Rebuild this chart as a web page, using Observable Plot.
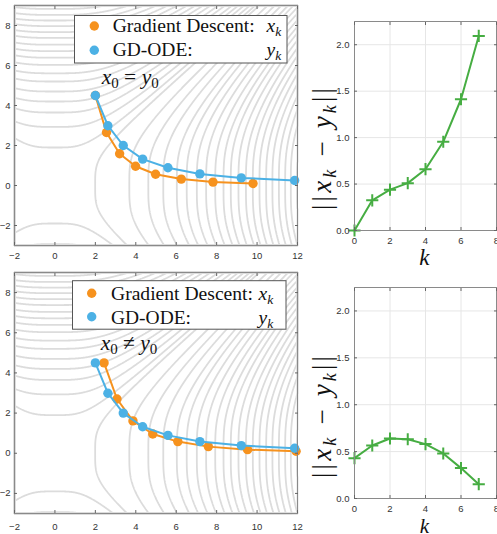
<!DOCTYPE html>
<html>
<head>
<meta charset="utf-8">
<script src="https://cdn.jsdelivr.net/npm/d3@7"></script>
<script src="https://cdn.jsdelivr.net/npm/@observablehq/plot@0.6"></script>
<style>
  body { margin: 0; background: #fff; }
  #fig { position: relative; width: 497px; height: 534px; overflow: hidden; background: #fff; }
  #fig .panel { position: absolute; }
  #fig svg.overlay { position: absolute; left: 0; top: 0; pointer-events: none; }
</style>
</head>
<body>
<div id="fig"></div>
<script>
// Iteration index k = 0..7
const k = [0, 1, 2, 3, 4, 5, 6, 7];

// Gradient descent iterates x_k, started at the same point as the ODE (x0 = y0)
const gdX1 = [2.0, 2.55, 3.2, 3.99, 4.98, 6.25, 7.82, 9.8];
const gdY1 = [4.5, 2.65, 1.59, 0.96, 0.56, 0.32, 0.17, 0.1];

// Gradient descent iterates x_k, started off the ODE start point (x0 != y0)
const gdX2 = [2.43, 3.07, 3.86, 4.84, 6.08, 7.59, 9.53, 11.93];
const gdY2 = [4.5, 2.7, 1.61, 0.96, 0.58, 0.33, 0.18, 0.1];

// GD-ODE samples y_k (same in both rows)
const odeX = [2.0, 2.62, 3.38, 4.34, 5.59, 7.17, 9.22, 11.86];
const odeY = [4.5, 2.99, 2.0, 1.32, 0.89, 0.58, 0.38, 0.25];

// Distance ||x_k - y_k||
const gap1 = [0, 0.325, 0.44, 0.51, 0.66, 0.955, 1.413, 2.095];
const gap2 = [0.43, 0.565, 0.64, 0.632, 0.58, 0.48, 0.324, 0.153];

// Tick values
const xTicksL = [-2, 0, 2, 4, 6, 8, 10, 12];
const yTicksL = [-2, 0, 2, 4, 6, 8];
const kTicks = [0, 2, 4, 6, 8];
const gapTicks = [0, 0.5, 1, 1.5, 2];

// Level curves of the objective: where each one crosses y = 0 and x = 0
const levelCrossX = [1.99, 3.68, 4.62, 5.36, 6.03, 6.52, 7.02, 7.48, 7.93, 8.34, 8.7,
                     9.08, 9.45, 9.79, 10.12, 10.45, 10.76, 11.08, 11.39, 11.67, 11.97];
const levelCrossY = [1.9, 2.93, 3.65, 4.2, 4.7, 5.2, 5.61, 6.03, 6.39, 6.72, 7.04,
                     7.38, 7.67, 7.97, 8.25, 8.53, 8.83];

// Legend text
const seriesNames = ["Gradient Descent:", "GD-ODE:"];
const seriesSymbols = ["x", "y"];

const ORANGE = "#f6921e", BLUE = "#4cb1e5", GREEN = "#46ad42";
const CONTOUR = "#dcdcdc", FRAME = "#8a8a8a", TICK = "#666";

// Saddle-shaped background objective: flat near the axes, quadratic far out
const bend = t => (t * t * t * t) / (t * t + 4);
const objective = (x, y) => bend(y) - 0.8 * bend(x);
const levels = [...levelCrossY.map(y => objective(0, y)), ...levelCrossX.map(x => objective(x, 0))]
  .sort((a, b) => a - b);

const axisStyle = {fontFamily: "'Liberation Sans', Arial, Helvetica, sans-serif", fontSize: "9.5px", color: "#333", overflow: "visible"};

function boxAxes(xt, yt, xPad, yPad) {
  return [
    Plot.axisX(xt, {anchor: "bottom", tickSize: 0, tickPadding: xPad}),
    Plot.axisX(xt, {anchor: "bottom", tickSize: 3, dy: -3, fill: "none", stroke: TICK}),
    Plot.axisX(xt, {anchor: "top", tickSize: 3, dy: 3, fill: "none", stroke: TICK}),
    Plot.axisY(yt, {anchor: "left", tickSize: 0, tickPadding: yPad}),
    Plot.axisY(yt, {anchor: "left", tickSize: 3, dx: 3, fill: "none", stroke: TICK}),
    Plot.axisY(yt, {anchor: "right", tickSize: 3, dx: -3, fill: "none", stroke: TICK})
  ];
}

function trajectoryPanel(gdX, gdY, {height, marginTop, marginBottom, xPad}) {
  const gd = k.map(i => ({x: gdX[i], y: gdY[i]}));
  const ode = k.map(i => ({x: odeX[i], y: odeY[i]}));
  return Plot.plot({
    width: 300, height, marginLeft: 14, marginRight: 3, marginTop, marginBottom,
    x: {domain: [-2, 12], label: null},
    y: {domain: [-3, 9], label: null},
    style: axisStyle,
    marks: [
      Plot.contour({x1: -2, x2: 12, y1: -3, y2: 9, value: objective, thresholds: levels,
                    pixelSize: 0.5, fill: "none", stroke: CONTOUR, strokeWidth: 1.8}),
      Plot.line(gd, {x: "x", y: "y", stroke: ORANGE, strokeWidth: 2}),
      Plot.dot(gd, {x: "x", y: "y", r: 4.7, fill: ORANGE}),
      Plot.line(ode, {x: "x", y: "y", stroke: BLUE, strokeWidth: 2}),
      Plot.dot(ode, {x: "x", y: "y", r: 4.7, fill: BLUE}),
      Plot.frame({stroke: FRAME}),
      ...boxAxes(xTicksL, yTicksL, xPad, 4)
    ]
  });
}

function gapPanel(gap, {height, marginTop, marginBottom}) {
  const rows = k.map(i => ({k: i, gap: gap[i]}));
  return Plot.plot({
    width: 177, height, marginLeft: 34, marginRight: 1, marginTop, marginBottom,
    x: {domain: [0, 8], label: null},
    y: {domain: [0, 2.25], label: null},
    style: axisStyle,
    marks: [
      Plot.gridX(kTicks, {stroke: "#e6e6e6", strokeOpacity: 1}),
      Plot.gridY(gapTicks, {stroke: "#e6e6e6", strokeOpacity: 1}),
      Plot.line(rows, {x: "k", y: "gap", stroke: GREEN, strokeWidth: 2}),
      Plot.dot(rows, {x: "k", y: "gap", symbol: "plus", r: 4, stroke: GREEN, strokeWidth: 2}),
      Plot.frame({stroke: FRAME}),
      ...boxAxes(kTicks, gapTicks, 7, 5)
    ]
  });
}

const fig = document.getElementById("fig");
function place(node, left, top) {
  const div = document.createElement("div");
  div.className = "panel";
  div.style.left = left + "px";
  div.style.top = top + "px";
  div.appendChild(node);
  fig.appendChild(div);
}

place(trajectoryPanel(gdX1, gdY1, {height: 270, marginTop: 5, marginBottom: 25, xPad: 7}), 0, 0);
place(trajectoryPanel(gdX2, gdY2, {height: 266, marginTop: 4, marginBottom: 21, xPad: 10}), 0, 268);
place(gapPanel(gap1, {height: 270, marginTop: 21, marginBottom: 40}), 320, 0);
place(gapPanel(gap2, {height: 264, marginTop: 17, marginBottom: 36}), 320, 270);

// Legends, annotations and axis titles
function legendSvg({x, y, w, h, dotX, textX, symX, rows}) {
  let s = `<rect x="${x}" y="${y}" width="${w}" height="${h}" fill="#fff" stroke="#555" stroke-width="1"/>`;
  rows.forEach((r, i) => {
    s += `<circle cx="${dotX}" cy="${r.cy}" r="4.7" fill="${i === 0 ? ORANGE : BLUE}"/>`;
    s += `<text x="${textX}" y="${r.base}" font-size="19.5" fill="#111" textLength="${r.len}" lengthAdjust="spacingAndGlyphs">${seriesNames[i]}</text>`;
    s += `<text x="${symX}" y="${r.base}" font-size="19.5" fill="#111" font-style="italic">${seriesSymbols[i]}<tspan font-size="13.5" dy="4">k</tspan></text>`;
  });
  return s;
}
function startNote(x, y, rel) {
  return `<text x="${x}" y="${y}" font-size="21.5" fill="#111"><tspan font-style="italic">x</tspan><tspan font-size="15" dy="4">0</tspan><tspan dy="-4"> ${rel} </tspan><tspan font-style="italic">y</tspan><tspan font-size="15" dy="4">0</tspan></text>`;
}
function gapTitle(cx, cy) {
  return `<text transform="translate(${cx},${cy}) rotate(-90)" text-anchor="middle" font-size="27" fill="#111" textLength="122" lengthAdjust="spacing">||<tspan font-style="italic">x</tspan><tspan font-style="italic" font-size="18" dy="5">k</tspan><tspan dy="-5"> − </tspan><tspan font-style="italic">y</tspan><tspan font-style="italic" font-size="18" dy="5">k</tspan><tspan dy="-5">||</tspan></text>`;
}
function kTitle(cx, base, size) {
  return `<text x="${cx}" y="${base}" text-anchor="middle" font-size="${size}" font-style="italic" fill="#111">k</text>`;
}

fig.insertAdjacentHTML("beforeend", `
<svg class="overlay" width="497" height="534" font-family="'Liberation Serif','Times New Roman',serif">
  ${legendSvg({x: 74.5, y: 15.5, w: 212.5, h: 47.5, dotX: 94.3, textX: 112.7, symX: 266.5,
               rows: [{cy: 26, base: 32.3, len: 142}, {cy: 50.3, base: 56, len: 80}]})}
  ${legendSvg({x: 72.5, y: 280.7, w: 213.5, h: 48.5, dotX: 91.7, textX: 111, symX: 258.5,
               rows: [{cy: 293.3, base: 300, len: 142}, {cy: 316.7, base: 323.5, len: 80}]})}
  ${startNote(101.7, 83.5, "=")}
  ${startNote(100.7, 350, "≠")}
  ${gapTitle(331, 149)}
  ${gapTitle(331, 417)}
  ${kTitle(424.3, 265, 23)}
  ${kTitle(424.3, 532.5, 21)}
</svg>`);
</script>
</body>
</html>
